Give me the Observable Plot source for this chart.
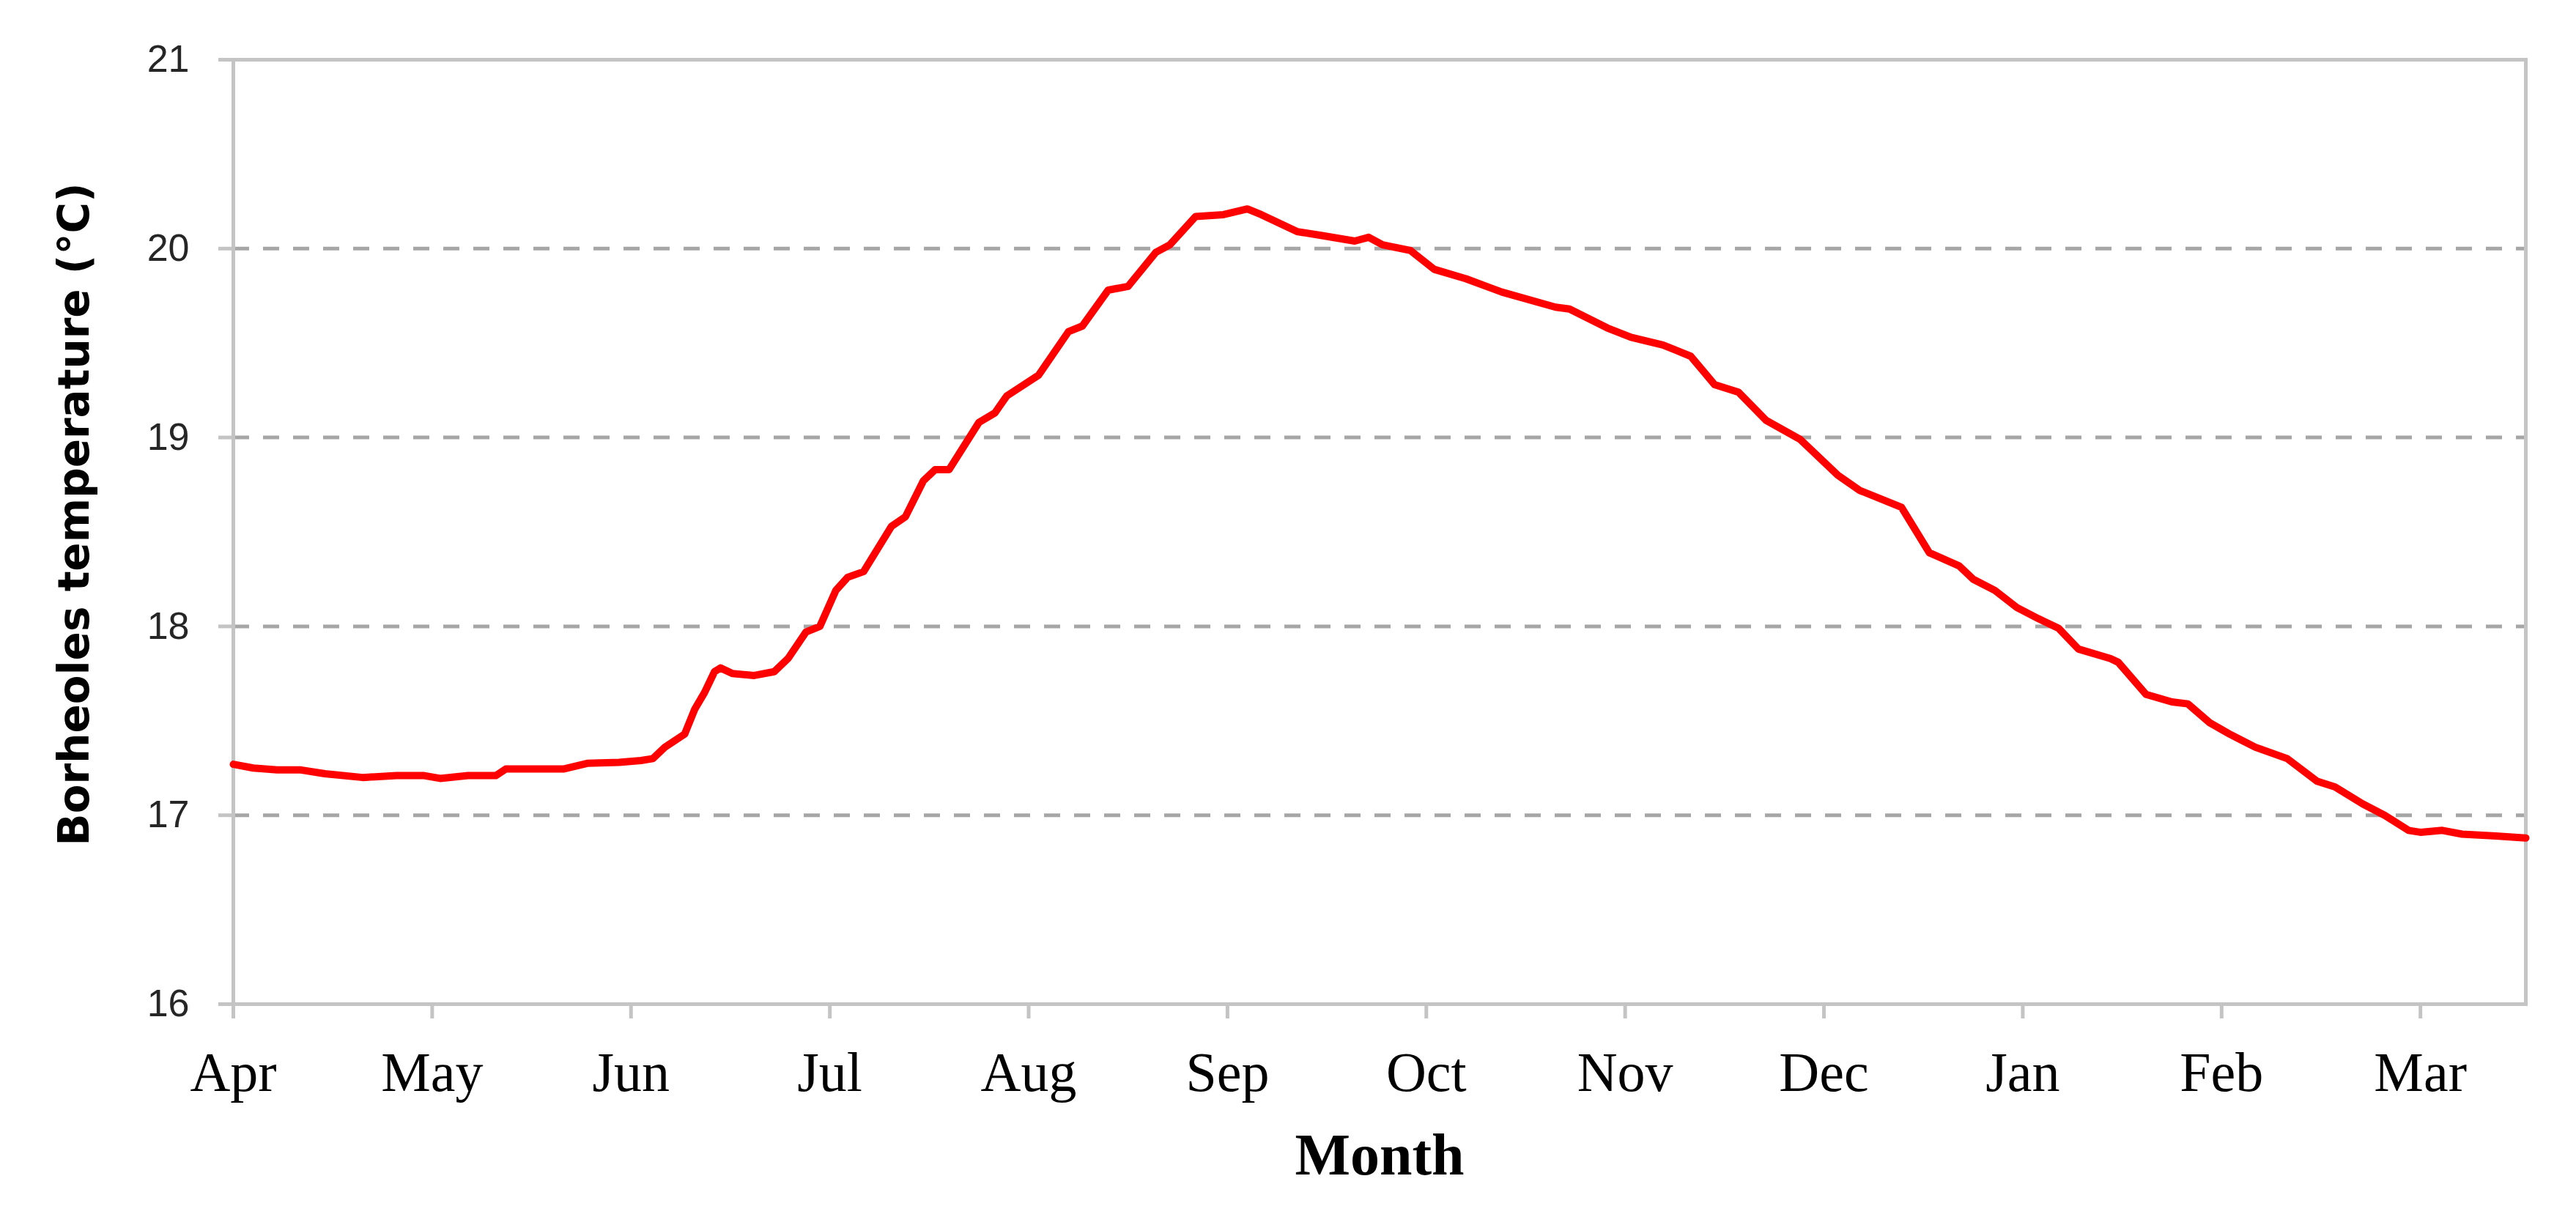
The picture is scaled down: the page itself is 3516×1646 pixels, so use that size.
<!DOCTYPE html>
<html><head><meta charset="utf-8">
<script src="https://cdn.jsdelivr.net/npm/d3@7"></script>
<script src="https://cdn.jsdelivr.net/npm/@observablehq/plot@0.6"></script>
<style>html,body{margin:0;padding:0;background:#fff} #chart svg{display:block}</style>
</head><body><div id="chart"></div>
<script>
const monthLabels = ["Apr","May","Jun","Jul","Aug","Sep","Oct","Nov","Dec","Jan","Feb","Mar"];
const monthTicks = [0,1,2,3,4,5,6,7,8,9,10,11];
const yTicks = [16,17,18,19,20,21];
const gridValues = [17,18,19,20];
const xDomain = [0, 11.53];
const yDomain = [16, 21];
const yTitle = "Borheoles temperature (°C)";
const xTitle = "Month";

// time position in months since the start of April
const timeMonths = [0,0.1,0.22,0.34,0.46,0.65,0.82,0.96,1.04,1.18,1.32,1.37,1.66,1.78,1.94,2.05,2.11,2.17,2.27,2.32,2.37,2.42,2.45,2.51,2.62,2.72,2.79,2.88,2.95,3.03,3.09,3.17,3.31,3.38,3.47,3.53,3.60,3.75,3.83,3.89,4.05,4.20,4.27,4.40,4.50,4.64,4.71,4.84,4.98,5.10,5.17,5.35,5.47,5.64,5.71,5.78,5.92,6.04,6.20,6.38,6.65,6.72,6.91,7.03,7.19,7.33,7.45,7.57,7.71,7.88,8.07,8.18,8.39,8.53,8.68,8.75,8.86,8.97,9.08,9.18,9.28,9.44,9.48,9.62,9.75,9.83,9.94,10.04,10.17,10.33,10.48,10.57,10.71,10.82,10.94,11.00,11.11,11.21,11.38,11.53];
// borehole temperature (°C)
const temperature = [17.27,17.25,17.24,17.24,17.22,17.20,17.21,17.21,17.195,17.21,17.21,17.245,17.245,17.275,17.28,17.29,17.30,17.36,17.43,17.56,17.65,17.76,17.78,17.75,17.74,17.76,17.83,17.97,18.0,18.19,18.26,18.29,18.53,18.58,18.77,18.83,18.83,19.08,19.13,19.22,19.33,19.56,19.59,19.78,19.80,19.98,20.02,20.17,20.18,20.21,20.18,20.09,20.07,20.04,20.06,20.02,19.99,19.89,19.84,19.77,19.69,19.68,19.58,19.53,19.49,19.43,19.28,19.24,19.09,18.99,18.80,18.72,18.63,18.39,18.32,18.25,18.19,18.10,18.04,17.99,17.88,17.83,17.81,17.64,17.60,17.59,17.49,17.43,17.36,17.30,17.18,17.15,17.06,17.00,16.92,16.91,16.92,16.90,16.89,16.88];

const data = timeMonths.map((m, i) => ({m, t: temperature[i]}));

const chart = Plot.plot({
  width: 3516,
  height: 1646,
  marginLeft: 318,
  marginRight: 69,
  marginTop: 81,
  marginBottom: 276,
  style: {background: "white", overflow: "visible"},
  x: {domain: xDomain, axis: null},
  y: {domain: yDomain, axis: null},
  marks: [
    Plot.gridY(gridValues, {stroke: "#a6a6a6", strokeOpacity: 1, strokeWidth: 5, strokeDasharray: "22,19"}),
    Plot.frame({stroke: "#c4c4c4", strokeWidth: 5}),
    Plot.axisY(yTicks, {tickSize: 20, tickPadding: 40, fontSize: 52, fontFamily: "Liberation Sans", tickFormat: d => String(d), stroke: "#c4c4c4", strokeWidth: 5, fill: "#262626", label: null}),
    Plot.axisX(monthTicks, {tickSize: 20, tickPadding: 45, fontSize: 76, fontFamily: "Liberation Serif", tickFormat: i => monthLabels[i], stroke: "#c4c4c4", strokeWidth: 5, fill: "black", label: null}),
    Plot.line(data, {x: "m", y: "t", stroke: "#ff0000", strokeWidth: 10}),
    Plot.text([yTitle], {frameAnchor: "left", textAnchor: "middle", dx: -216, dy: -24, rotate: -90, fontSize: 58, fontWeight: "bold", fontFamily: "DejaVu Sans", fill: "black"}),
    Plot.text([xTitle], {frameAnchor: "bottom", dy: 232, fontSize: 80, fontWeight: "bold", fontFamily: "Liberation Serif", fill: "black"})
  ]
});
document.getElementById("chart").append(chart);
</script>
</body></html>
